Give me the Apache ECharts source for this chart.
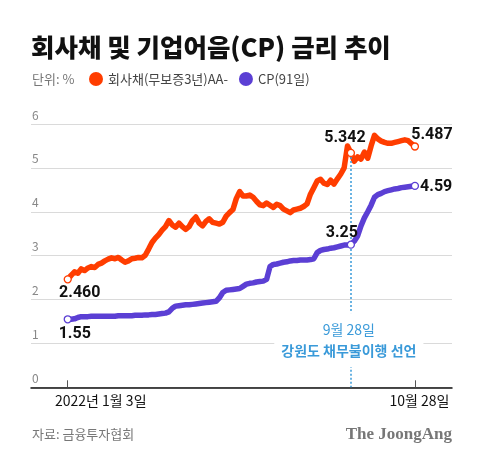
<!DOCTYPE html>
<html><head><meta charset="utf-8">
<script src="https://cdn.jsdelivr.net/npm/echarts@6/dist/echarts.min.js"></script>
<style>html,body{margin:0;padding:0;background:#fff}#c{width:480px;height:463px}</style>
</head><body><div id="c"></div>
<script>
// Corporate bond (unsecured 3y AA-) yield, sampled along the period 2022-01-03 .. 2022-10-28
const bondRates = [2.46,2.55,2.63,2.60,2.70,2.66,2.72,2.75,2.73,2.80,2.83,2.88,2.92,2.95,2.93,2.96,2.90,2.85,2.88,2.93,
2.94,2.96,2.95,3.01,3.15,3.30,3.40,3.48,3.58,3.66,3.80,3.70,3.65,3.74,3.66,3.60,3.66,3.80,3.88,3.74,
3.68,3.78,3.84,3.76,3.74,3.72,3.76,3.90,3.98,4.05,4.30,4.46,4.36,4.36,4.38,4.33,4.24,4.16,4.14,4.20,
4.15,4.10,4.17,4.14,4.06,4.02,3.98,4.04,4.06,4.08,4.12,4.18,4.40,4.55,4.70,4.74,4.65,4.62,4.72,4.63,
4.75,4.86,5.00,5.50,5.342,5.15,5.25,5.20,5.36,5.22,5.50,5.74,5.66,5.61,5.58,5.56,5.56,5.58,5.60,5.62,
5.64,5.62,5.55,5.487];
// CP (91 days) yield
const cpRates = [1.55,1.55,1.56,1.59,1.61,1.61,1.61,1.62,1.62,1.62,1.62,1.62,1.62,1.62,1.62,1.63,1.63,1.63,1.63,1.63,
1.64,1.64,1.64,1.65,1.65,1.66,1.66,1.67,1.68,1.69,1.72,1.80,1.85,1.86,1.87,1.88,1.88,1.89,1.90,1.91,
1.92,1.93,1.94,1.95,1.96,2.04,2.16,2.21,2.22,2.23,2.24,2.25,2.30,2.35,2.37,2.38,2.40,2.41,2.42,2.46,
2.75,2.80,2.81,2.83,2.85,2.86,2.88,2.89,2.89,2.90,2.90,2.90,2.91,2.93,3.07,3.12,3.14,3.15,3.17,3.18,
3.20,3.22,3.24,3.24,3.25,3.33,3.45,3.68,3.86,4.00,4.15,4.33,4.39,4.42,4.46,4.48,4.50,4.52,4.53,4.55,
4.56,4.57,4.58,4.59];
const seriesNames = ['회사채(무보증3년)AA-', 'CP(91일)'];
const xTickIdx = [0, 103];
const xTickLabels = ['2022년 1월 3일', '10월 28일'];
const eventIdx = 84;
const eventLabels = ['9월 28일', '강원도 채무불이행 선언'];
const bondLabels = ['2.460', '5.342', '5.487'];
const cpLabels = ['1.55', '3.25', '4.59'];
const yTicks = [0, 6, 1];

const ORANGE = '#FF3D00', PURPLE = '#5B3FD4', NOTE = '#3A9AD9';
const KR = '"Noto Sans CJK KR", "Noto Sans", sans-serif';
const NUM = 'Roboto, "Noto Sans CJK KR", sans-serif';
const last = bondRates.length - 1;

function toPairs(arr){ return arr.map((v,i)=>[i,v]); }
function mp(idx, val, text, pos, offset, color){
  return {coord:[idx,val], symbol:'circle', symbolSize:7,
    itemStyle:{color:'#fff', borderColor:color, borderWidth:1.3},
    label:{show:true, formatter:text, position:pos, offset:offset, distance:4,
      fontFamily:NUM, fontSize:16, fontWeight:'bold', color:'#111'}};
}

const chart = echarts.init(document.getElementById('c'), null, {renderer:'canvas'});
chart.setOption({
  animation:false,
  backgroundColor:'#fff',
  title:[
    {text:'회사채 및 기업어음(CP) 금리 추이', left:31, top:31, padding:0,
     textStyle:{fontFamily:KR, fontSize:25.5, fontWeight:900, color:'#111', lineHeight:32}},
    {text:'단위: %', left:32, top:71, padding:0,
     textStyle:{fontFamily:KR, fontSize:13, fontWeight:'normal', color:'#777', lineHeight:16}},
    {text:'자료: 금융투자협회', left:32, top:426, padding:0,
     textStyle:{fontFamily:KR, fontSize:13, fontWeight:'normal', color:'#777', lineHeight:16}},
    {text:'The JoongAng', right:28, top:425, padding:0,
     textStyle:{fontFamily:'"Liberation Serif", "DejaVu Serif", serif', fontSize:17, fontWeight:'bold', color:'#777', lineHeight:20}}
  ],
  legend:{data:seriesNames, left:89, top:72, padding:0, icon:'circle', itemWidth:14, itemHeight:14, itemGap:11,
    textStyle:{fontFamily:KR, fontSize:13, color:'#444'}},
  grid:{left:31, right:28, top:124, bottom:75.7, containLabel:false},
  xAxis:{type:'value', min:-10.9, max:114,
    axisLine:{show:true, lineStyle:{color:'#111', width:1.5}},
    axisTick:{show:true, inside:true, length:7, customValues:xTickIdx, lineStyle:{color:'#555', width:1}},
    axisLabel:{show:true, customValues:xTickIdx, margin:6,
      formatter:function(v){ const k = xTickIdx.indexOf(v); return k===0 ? '{a|'+xTickLabels[0]+'}' : '{b|'+xTickLabels[1]+'}'; },
      rich:{a:{fontFamily:KR, fontSize:14, color:'#111', padding:[0,0,0,66]},
            b:{fontFamily:KR, fontSize:14, color:'#111', padding:[0,0,0,9]}}},
    splitLine:{show:false}},
  yAxis:{type:'value', min:yTicks[0], max:yTicks[1], interval:yTicks[2],
    axisLine:{show:false}, axisTick:{show:false},
    axisLabel:{inside:true, align:'left', verticalAlign:'bottom', margin:1, padding:[0,0,3,0],
      fontFamily:KR, fontSize:12, color:'#888'},
    splitLine:{show:true, lineStyle:{color:'#DADADA', width:1}}},
  series:[
    {name:seriesNames[0], type:'line', data:toPairs(bondRates), symbol:'none', color:ORANGE,
     lineStyle:{width:5.5, color:ORANGE, cap:'round', join:'round'}, z:3,
     markPoint:{data:[
       mp(0, bondRates[0], bondLabels[0], 'bottom', [12,-2], ORANGE),
       mp(eventIdx, bondRates[eventIdx], bondLabels[1], 'top', [-6,1], ORANGE),
       mp(last, bondRates[last], bondLabels[2], 'top', [17,5], ORANGE)
     ]}},
    {name:seriesNames[1], type:'line', data:toPairs(cpRates), symbol:'none', color:PURPLE,
     lineStyle:{width:5.5, color:PURPLE, cap:'round', join:'round'}, z:2,
     markLine:{silent:true, symbol:'none', label:{show:false},
       lineStyle:{type:[2,2], color:NOTE, width:1.5},
       data:[[{coord:[eventIdx, bondRates[eventIdx]]},{coord:[eventIdx, 1.69]}],
             [{coord:[eventIdx, 0.49]},{coord:[eventIdx, 0]}]]},
     markPoint:{data:[
       mp(0, cpRates[0], cpLabels[0], 'bottom', [7,-1], PURPLE),
       mp(eventIdx, cpRates[eventIdx], cpLabels[1], 'top', [-9,4], PURPLE),
       mp(last, cpRates[last], cpLabels[2], 'right', [-3,1], PURPLE),
       {coord:[83.4, 1.07], symbol:'rect', symbolSize:1, itemStyle:{color:'rgba(0,0,0,0)'},
        label:{show:true, position:'inside', backgroundColor:'#fff', padding:[6,7],
          formatter:'{a|'+eventLabels[0]+'}\n{b|'+eventLabels[1]+'}',
          rich:{a:{fontFamily:KR, fontSize:14, color:NOTE, lineHeight:21, align:'center'},
                b:{fontFamily:KR, fontSize:14, fontWeight:'bold', color:NOTE, lineHeight:21, align:'center'}}}}
     ]}}
  ]
});
</script></body></html>
